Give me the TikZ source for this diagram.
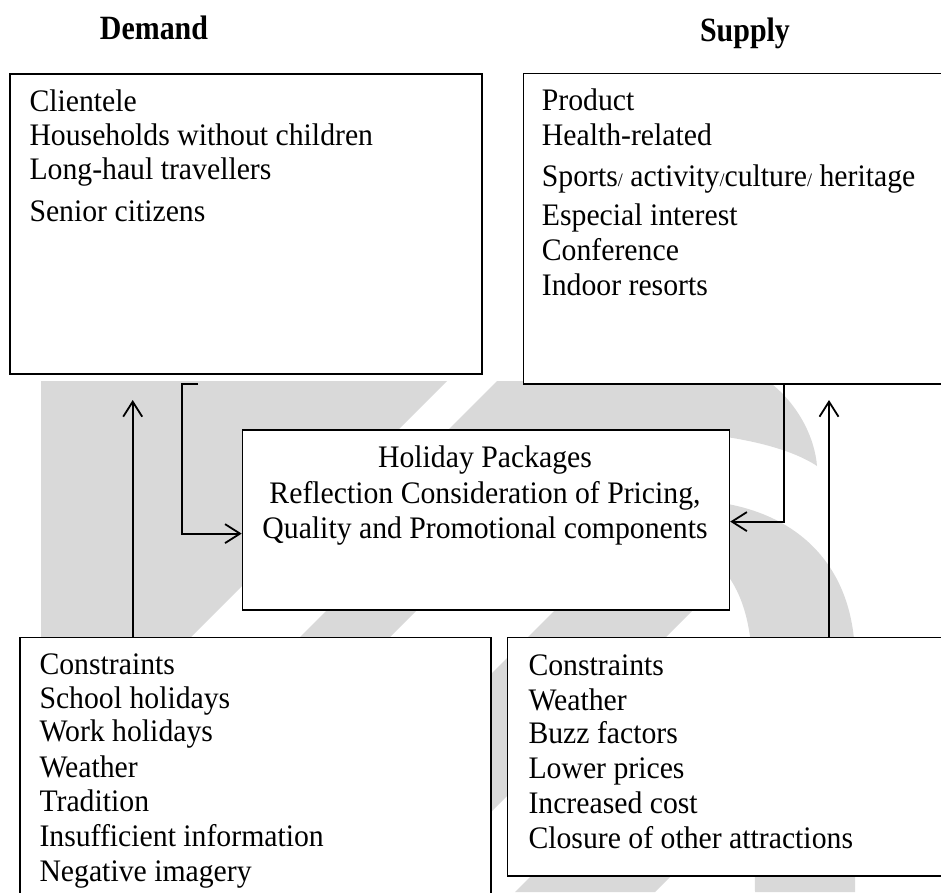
\documentclass[tikz,border=0pt]{standalone}
\usepackage{fontspec}
\setmainfont{Liberation Serif}
\newfontfamily\bodyfont{Liberation Serif}[FakeStretch=0.95]
\newfontfamily\hdfont{Liberation Serif}[FakeStretch=0.88]
\usetikzlibrary{arrows.meta}
\definecolor{wm}{gray}{0.85}
\newcommand\smsl{{\fontsize{19}{19}\selectfont/}}
\begin{document}
\begin{tikzpicture}[x=1pt,y=-1pt,
  box/.style={draw=black, fill=white, line width=1.6pt, inner sep=0pt, anchor=north west},
  txt/.style={font=\bodyfont\fontsize{31.3}{35}\selectfont, inner sep=0pt, anchor=base west},
  ctxt/.style={font=\bodyfont\fontsize{31.3}{35}\selectfont, inner sep=0pt, anchor=base},
  hd/.style={font=\hdfont\bfseries\fontsize{34}{36}\selectfont, inner sep=0pt, anchor=base},
  arr/.style={line width=1.8pt, -{Straight Barb[length=15pt,width=19pt]}},
]
\useasboundingbox (0,0) rectangle (941,892);
% watermark
\begin{scope}
\clip (0,381) rectangle (941,892);
\fill[wm] (41,381) -- (447,381) -- (41,787) -- cycle;
\fill[wm] (237,700) -- (327,700) -- (507,520) -- (417,520) -- cycle;
\fill[wm] (273,892) -- (411,892) -- (713,590) -- (575,590) -- cycle;
\fill[wm] (515,892) -- (655,892) -- (847,700) -- (707,700) -- cycle;
\fill[wm] (497,381) -- (768,381) .. controls (800,405) and (815,440) .. (817,466)
  .. controls (790,448) and (740,436) .. (680,432) -- (448,430) -- cycle;
\fill[wm] (690,500) .. controls (790,503) and (855,560) .. (855,660) -- (855,892)
  -- (755,892) -- (752,660) .. controls (750,610) and (735,565) .. (690,545) -- cycle;
\end{scope}
% headers
\node[hd] (dem) at (154,39.5) {Demand};
\node[hd] (sup) at (745,41.5) {Supply};
% boxes
\node[box, minimum width=471.7pt, minimum height=300pt] (tl) at (9.3,73.3) {};
\node[box, minimum width=430pt, minimum height=310.6pt] (tr) at (522.7,72.7) {};
\node[box, line width=1.2pt, minimum width=487.3pt, minimum height=180pt] (c) at (241.7,429.3) {};
\node[box, minimum width=471pt, minimum height=270pt] (bl) at (19,636.7) {};
\node[box, minimum width=440pt, minimum height=238.3pt] (br) at (506.7,636.7) {};
% texts
\node[txt] (tl1) at (29.3,111.7) {Clientele};
\node[txt] (tl2) at (29.3,145) {Households without children};
\node[txt] (tl3) at (29.3,179.3) {Long-haul travellers};
\node[txt] (tl4) at (29.3,221) {Senior citizens};
\node[txt] (tr1) at (541.7,110) {Product};
\node[txt] (tr2) at (541.7,145) {Health-related};
\node[txt] (tr3) at (541.7,186) {Sports\smsl{} activity\smsl{}culture\smsl{} heritage};
\node[txt] (tr4) at (541.7,225.7) {Especial interest};
\node[txt] (tr5) at (541.7,260) {Conference};
\node[txt] (tr6) at (541.7,295) {Indoor resorts};
\node[ctxt] (c1) at (485,467) {Holiday Packages};
\node[ctxt] (c2) at (485,503) {Reflection Consideration of Pricing,};
\node[ctxt] (c3) at (485,538) {Quality and Promotional components};
\node[txt] (bl1) at (39.3,674.3) {Constraints};
\node[txt] (bl2) at (39.3,708.3) {School holidays};
\node[txt] (bl3) at (39.3,741.7) {Work holidays};
\node[txt] (bl4) at (39.3,777.7) {Weather};
\node[txt] (bl5) at (39.3,811.7) {Tradition};
\node[txt] (bl6) at (39.3,846.7) {Insufficient information};
\node[txt] (bl7) at (39.3,881.7) {Negative imagery};
\node[txt] (br1) at (528.3,675) {Constraints};
\node[txt] (br2) at (528.3,710) {Weather};
\node[txt] (br3) at (528.3,743.3) {Buzz factors};
\node[txt] (br4) at (528.3,778.3) {Lower prices};
\node[txt] (br5) at (528.3,813.3) {Increased cost};
\node[txt] (br6) at (528.3,848.3) {Closure of other attractions};
% connectors
\coordinate (lup) at (132.7,400);
\coordinate (rup) at (829,400);
\coordinate (lbk) at (198,384);
\coordinate (rbk) at (763,384);
\draw[arr] (bl.north west -| lup) -- (lup);
\draw[arr] (br.north west -| rup) -- (rup);
\draw[arr] (lbk) -- ++(-16,0) |- ([yshift=-13.7pt]c.west);
\draw[arr] (rbk) -- ++(21,0) |- ([yshift=-1.7pt]c.east);
\end{tikzpicture}
\end{document}
